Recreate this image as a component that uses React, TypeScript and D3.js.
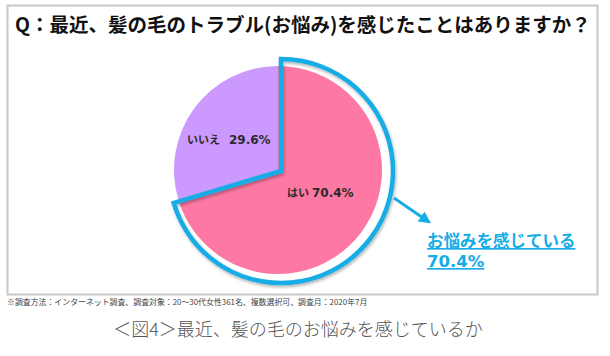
import React from "react";
import * as d3 from "d3";

const categories = ["はい", "いいえ"];
const values = [70.4, 29.6];
const valueLabels = ["70.4%", "29.6%"];
const title = "Q：最近、髪の毛のトラブル(お悩み)を感じたことはありますか？";
const calloutLines = ["お悩みを感じている", "70.4%"];
const footnote = "※調査方法：インターネット調査、調査対象：20～30代女性361名、複数選択可、調査月：2020年7月";
const caption = "＜図4＞最近、髪の毛のお悩みを感じているか";

const colors = ["#fd78a2", "#cc99fe"];
const blue = "#16ace6";
const jp = "'Noto Sans CJK JP', 'Noto Sans', sans-serif";
const latin = "'DejaVu Sans', sans-serif";

export default function App() {
  const W = 610, H = 356;
  const cx = 278, cy = 170, r = 104;
  const pieGen = d3.pie<number>().sort(null).value((d) => d);
  const arcs = pieGen(values);
  const arcGen = d3.arc<d3.PieArcDatum<number>>().innerRadius(0).outerRadius(r);
  const outlineArc = d3.arc();
  const yes = arcs[0];
  const outlinePath = outlineArc({ startAngle: yes.startAngle, endAngle: yes.endAngle, innerRadius: 0, outerRadius: 112 } as any) as string;

  const labelPos = [
    [287, 197, 312],
    [187, 144, 229],
  ];

  return (
    <svg width={W} height={H} style={{ position: "absolute", left: 0, top: 0 }} fontFamily={jp}>
      <defs>
        <filter id="sh" x="-20%" y="-20%" width="140%" height="140%">
          <feDropShadow dx="1" dy="2" stdDeviation="1.5" floodColor="#000" floodOpacity="0.3" />
        </filter>
        <marker id="ah" viewBox="0 0 10 10" refX="8" refY="5" markerWidth="4" markerHeight="4" orient="auto">
          <path d="M0,0 L10,5 L0,10 z" fill={blue} />
        </marker>
      </defs>
      <rect x={0} y={0} width={W} height={H} fill="#fff" />
      <rect x={7.5} y={5.5} width={590} height={289} fill="#fff" stroke="#c8c8c8" strokeWidth={2} />
      <text x={15} y={32} fontSize={19.5} fontWeight="bold" fill="#111">{title}</text>

      <g transform={`translate(${cx},${cy})`}>
        {arcs.map((a, i) => (
          <path key={categories[i]} d={arcGen(a) as string} fill={colors[i]} />
        ))}
      </g>
      <g transform={`translate(${cx + 3},${cy + 1})`}>
        <path d={outlinePath} fill="none" stroke={blue} strokeWidth={4.5} strokeLinejoin="miter" filter="url(#sh)" />
      </g>
      {categories.map((c, i) => (
        <text key={c} y={labelPos[i][1]} fontWeight="bold" fill="#2a2a2a">
          <tspan x={labelPos[i][0]} fontSize={11}>{c}</tspan>
          <tspan x={labelPos[i][2]} fontSize={12} fontFamily={latin}>{valueLabels[i]}</tspan>
        </text>
      ))}
      <line x1={394} y1={198} x2={429} y2={222} stroke={blue} strokeWidth={3} markerEnd="url(#ah)" />
      <text x={427} y={247} fontSize={16.5} fontWeight="bold" fill={blue} textDecoration="underline">
        {calloutLines[0]}
      </text>
      <text x={427} y={267} fontSize={16.5} fontWeight="bold" fill={blue} textDecoration="underline" fontFamily={latin}>
        {calloutLines[1]}
      </text>
      <text x={7} y={305} fontSize={7.9} fill="#444">{footnote}</text>
      <text x={298} y={336} fontSize={18} fill="#555" textAnchor="middle" fontWeight="300">{caption}</text>
    </svg>
  );
}
